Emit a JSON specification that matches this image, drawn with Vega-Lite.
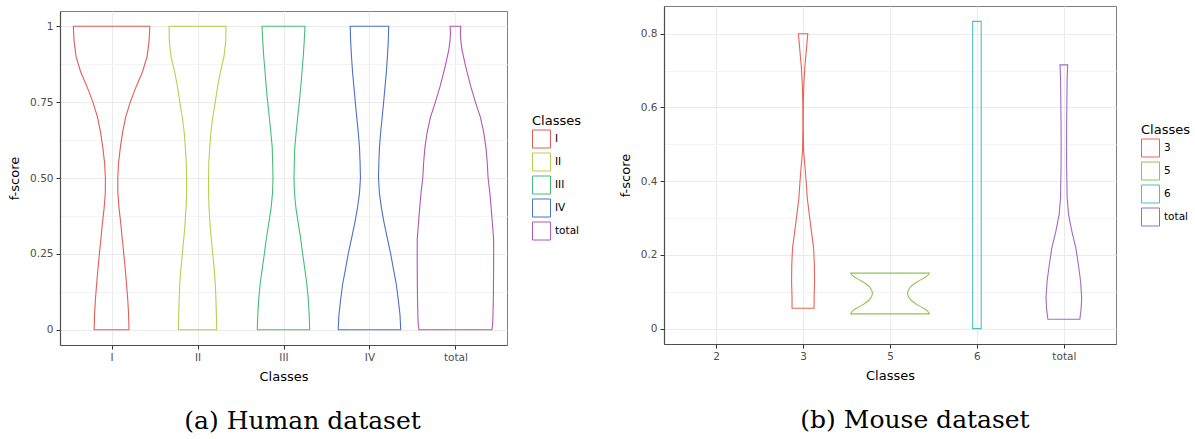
{
  "$schema": "https://vega.github.io/schema/vega-lite/v6.json",
  "padding": {"left": 8, "top": 5, "right": 5, "bottom": 5},
  "background": "white",
  "spacing": 37,
  "resolve": {"scale": {"stroke": "independent"}, "legend": {"stroke": "independent"}},
  "config": {
    "font": "DejaVu Sans",
    "view": {"stroke": "#7F7F7F", "strokeWidth": 1},
    "axis": {
      "domainColor": "#4D4D4D", "domainWidth": 1.2,
      "tickColor": "#333333", "tickSize": 4, "tickWidth": 1,
      "labelFont": "DejaVu Sans", "labelFontSize": 10.5, "labelColor": "#4D4D4D", "labelPadding": 3,
      "titleFont": "DejaVu Sans", "titleFontSize": 13, "titleFontWeight": "normal", "titleColor": "black", "titlePadding": 8,
      "gridColor": "#EBEBEB", "gridWidth": 1.1
    },
    "legend": {
      "orient": "none",
      "titleFont": "DejaVu Sans", "titleFontSize": 13, "titleFontWeight": "normal", "titleColor": "black", "titlePadding": 1.5,
      "labelFont": "DejaVu Sans", "labelFontSize": 10.5, "labelColor": "black", "labelOffset": 4,
      "symbolType": "square", "symbolSize": 324, "symbolStrokeWidth": 1, "symbolFillColor": "white", "rowPadding": 0
    },
    "title": {"font": "DejaVu Serif", "fontSize": 25, "fontWeight": "normal", "color": "black", "anchor": "middle"}
  },
  "datasets": {
    "human": [
      {"c":"I","f":1,"d":0.445},{"c":"I","f":0.95,"d":0.436},{"c":"I","f":0.9,"d":0.413},{"c":"I","f":0.85,"d":0.36},{"c":"I","f":0.8,"d":0.285},{"c":"I","f":0.75,"d":0.217},{"c":"I","f":0.7,"d":0.163},{"c":"I","f":0.65,"d":0.128},{"c":"I","f":0.6,"d":0.102},{"c":"I","f":0.55,"d":0.081},{"c":"I","f":0.5,"d":0.072},{"c":"I","f":0.45,"d":0.073},{"c":"I","f":0.4,"d":0.087},{"c":"I","f":0.35,"d":0.107},{"c":"I","f":0.3,"d":0.124},{"c":"I","f":0.25,"d":0.142},{"c":"I","f":0.2,"d":0.159},{"c":"I","f":0.15,"d":0.174},{"c":"I","f":0.1,"d":0.188},{"c":"I","f":0.05,"d":0.198},{"c":"I","f":0,"d":0.203},
      {"c":"II","f":1,"d":0.331},{"c":"II","f":0.95,"d":0.328},{"c":"II","f":0.9,"d":0.308},{"c":"II","f":0.85,"d":0.267},{"c":"II","f":0.8,"d":0.233},{"c":"II","f":0.75,"d":0.206},{"c":"II","f":0.7,"d":0.177},{"c":"II","f":0.65,"d":0.155},{"c":"II","f":0.6,"d":0.142},{"c":"II","f":0.55,"d":0.131},{"c":"II","f":0.5,"d":0.128},{"c":"II","f":0.45,"d":0.128},{"c":"II","f":0.4,"d":0.134},{"c":"II","f":0.35,"d":0.145},{"c":"II","f":0.3,"d":0.16},{"c":"II","f":0.25,"d":0.177},{"c":"II","f":0.2,"d":0.194},{"c":"II","f":0.15,"d":0.207},{"c":"II","f":0.1,"d":0.214},{"c":"II","f":0.05,"d":0.219},{"c":"II","f":0,"d":0.223},
      {"c":"III","f":1,"d":0.25},{"c":"III","f":0.95,"d":0.241},{"c":"III","f":0.9,"d":0.23},{"c":"III","f":0.85,"d":0.215},{"c":"III","f":0.8,"d":0.201},{"c":"III","f":0.75,"d":0.184},{"c":"III","f":0.7,"d":0.165},{"c":"III","f":0.65,"d":0.147},{"c":"III","f":0.6,"d":0.131},{"c":"III","f":0.55,"d":0.126},{"c":"III","f":0.5,"d":0.122},{"c":"III","f":0.45,"d":0.128},{"c":"III","f":0.4,"d":0.145},{"c":"III","f":0.35,"d":0.172},{"c":"III","f":0.3,"d":0.2},{"c":"III","f":0.25,"d":0.223},{"c":"III","f":0.2,"d":0.248},{"c":"III","f":0.15,"d":0.272},{"c":"III","f":0.1,"d":0.288},{"c":"III","f":0.05,"d":0.299},{"c":"III","f":0,"d":0.305},
      {"c":"IV","f":1,"d":0.224},{"c":"IV","f":0.95,"d":0.219},{"c":"IV","f":0.9,"d":0.209},{"c":"IV","f":0.85,"d":0.197},{"c":"IV","f":0.8,"d":0.181},{"c":"IV","f":0.75,"d":0.165},{"c":"IV","f":0.7,"d":0.148},{"c":"IV","f":0.65,"d":0.13},{"c":"IV","f":0.6,"d":0.116},{"c":"IV","f":0.55,"d":0.109},{"c":"IV","f":0.5,"d":0.105},{"c":"IV","f":0.45,"d":0.116},{"c":"IV","f":0.4,"d":0.14},{"c":"IV","f":0.35,"d":0.172},{"c":"IV","f":0.3,"d":0.209},{"c":"IV","f":0.25,"d":0.247},{"c":"IV","f":0.2,"d":0.279},{"c":"IV","f":0.15,"d":0.312},{"c":"IV","f":0.1,"d":0.335},{"c":"IV","f":0.05,"d":0.355},{"c":"IV","f":0,"d":0.364},
      {"c":"total","f":1,"d":0.062},{"c":"total","f":0.975,"d":0.057},{"c":"total","f":0.95,"d":0.064},{"c":"total","f":0.92,"d":0.078},{"c":"total","f":0.875,"d":0.113},{"c":"total","f":0.85,"d":0.134},{"c":"total","f":0.8,"d":0.18},{"c":"total","f":0.75,"d":0.233},{"c":"total","f":0.7,"d":0.291},{"c":"total","f":0.65,"d":0.329},{"c":"total","f":0.6,"d":0.355},{"c":"total","f":0.55,"d":0.37},{"c":"total","f":0.5,"d":0.38},{"c":"total","f":0.45,"d":0.401},{"c":"total","f":0.4,"d":0.416},{"c":"total","f":0.35,"d":0.43},{"c":"total","f":0.3,"d":0.444},{"c":"total","f":0.25,"d":0.445},{"c":"total","f":0.2,"d":0.444},{"c":"total","f":0.15,"d":0.443},{"c":"total","f":0.1,"d":0.441},{"c":"total","f":0.05,"d":0.437},{"c":"total","f":0.02,"d":0.433},{"c":"total","f":0,"d":0.424}
    ],
    "mouse": [
      {"c":"3","f":0.8,"d":0.054},{"c":"3","f":0.755,"d":0.037},{"c":"3","f":0.709,"d":0.02},{"c":"3","f":0.664,"d":0.009},{"c":"3","f":0.618,"d":0.0035},{"c":"3","f":0.55,"d":0.0023},{"c":"3","f":0.482,"d":0.006},{"c":"3","f":0.437,"d":0.023},{"c":"3","f":0.391,"d":0.038},{"c":"3","f":0.355,"d":0.048},{"c":"3","f":0.31,"d":0.071},{"c":"3","f":0.264,"d":0.096},{"c":"3","f":0.219,"d":0.121},{"c":"3","f":0.174,"d":0.13},{"c":"3","f":0.128,"d":0.132},{"c":"3","f":0.083,"d":0.127},{"c":"3","f":0.0553,"d":0.127},
      {"c":"5","f":0.1506,"d":0.451},{"c":"5","f":0.145,"d":0.437},{"c":"5","f":0.14,"d":0.409},{"c":"5","f":0.133,"d":0.357},{"c":"5","f":0.125,"d":0.299},{"c":"5","f":0.115,"d":0.242},{"c":"5","f":0.105,"d":0.211},{"c":"5","f":0.096,"d":0.201},{"c":"5","f":0.087,"d":0.211},{"c":"5","f":0.077,"d":0.242},{"c":"5","f":0.067,"d":0.299},{"c":"5","f":0.059,"d":0.357},{"c":"5","f":0.052,"d":0.409},{"c":"5","f":0.046,"d":0.437},{"c":"5","f":0.04,"d":0.451},
      {"c":"6","f":0.8336,"d":0.049},{"c":"6","f":0.6,"d":0.049},{"c":"6","f":0.4,"d":0.049},{"c":"6","f":0.2,"d":0.049},{"c":"6","f":0,"d":0.049},
      {"c":"total","f":0.7155,"d":0.044},{"c":"total","f":0.68,"d":0.038},{"c":"total","f":0.618,"d":0.035},{"c":"total","f":0.55,"d":0.032},{"c":"total","f":0.482,"d":0.031},{"c":"total","f":0.44,"d":0.032},{"c":"total","f":0.4,"d":0.035},{"c":"total","f":0.355,"d":0.038},{"c":"total","f":0.31,"d":0.054},{"c":"total","f":0.264,"d":0.092},{"c":"total","f":0.219,"d":0.138},{"c":"total","f":0.174,"d":0.167},{"c":"total","f":0.128,"d":0.193},{"c":"total","f":0.083,"d":0.205},{"c":"total","f":0.055,"d":0.199},{"c":"total","f":0.0253,"d":0.184}
    ]
  },
  "hconcat": [
    {
      "title": {"text": "(a) Human dataset", "orient": "bottom", "offset": 25, "dx": 8},
      "spacing": 0,
      "vconcat": [
        {
          "width": 447,
          "height": 4,
          "view": {"stroke": null},
          "data": {"values": [{}]},
          "mark": {"type": "point", "size": 0, "opacity": 0, "strokeWidth": 0},
          "encoding": {}
        },
        {
          "data": {"name": "human"},
          "width": 447,
          "height": 334,
          "transform": [
            {"calculate": "indexof(['I','II','III','IV','total'], datum.c) + 1", "as": "p"},
            {"calculate": "datum.p - datum.d", "as": "lo"},
            {"calculate": "datum.p + datum.d", "as": "hi"}
          ],
          "mark": {"type": "area", "orient": "horizontal", "fill": "transparent", "strokeWidth": 1.1},
          "encoding": {
            "y": {
              "field": "f", "type": "quantitative",
              "scale": {"domain": [-0.05, 1.05], "nice": false, "zero": false},
              "axis": {
                "title": "f-score",
                "values": [0, 0.125, 0.25, 0.375, 0.5, 0.625, 0.75, 0.875, 1],
                "labelExpr": "indexof([0.125,0.375,0.625,0.875], datum.value) >= 0 ? '' : (datum.value == 0 ? '0' : (datum.value == 1 ? '1' : format(datum.value, '.2f')))",
                "tickColor": {"condition": {"test": "indexof([0.125,0.375,0.625,0.875], datum.value) >= 0", "value": "transparent"}, "value": "#333333"},
                "gridColor": {"condition": {"test": "indexof([0.125,0.375,0.625,0.875], datum.value) >= 0", "value": "#F4F4F4"}, "value": "#EBEBEB"}
              }
            },
            "x": {
              "field": "lo", "type": "quantitative",
              "scale": {"domain": [0.4, 5.6], "nice": false, "zero": false},
              "axis": {"title": "Classes", "values": [1, 2, 3, 4, 5], "labelExpr": "['I','II','III','IV','total'][datum.value - 1]"}
            },
            "x2": {"field": "hi"},
            "stroke": {
              "field": "c", "type": "nominal",
              "scale": {"domain": ["I", "II", "III", "IV", "total"], "range": ["#E35D55", "#B8D04E", "#45BE78", "#4A72C8", "#B157B5"]},
              "legend": {"title": "Classes", "legendX": 472, "legendY": 109}
            },
            "detail": {"field": "c"}
          }
        }
      ]
    },
    {
      "title": {"text": "(b) Mouse dataset", "orient": "bottom", "offset": 25, "dx": 25},
      "data": {"name": "mouse"},
      "width": 452,
      "height": 338,
      "transform": [
        {"calculate": "indexof(['2','3','5','6','total'], datum.c) + 1", "as": "p"},
        {"calculate": "datum.p - datum.d", "as": "lo"},
        {"calculate": "datum.p + datum.d", "as": "hi"}
      ],
      "mark": {"type": "area", "orient": "horizontal", "fill": "transparent", "strokeWidth": 1.1},
      "encoding": {
        "y": {
          "field": "f", "type": "quantitative",
          "scale": {"domain": [-0.0417, 0.8753], "nice": false, "zero": false},
          "axis": {
            "title": "f-score",
            "values": [0, 0.1, 0.2, 0.3, 0.4, 0.5, 0.6, 0.7, 0.8],
            "labelExpr": "indexof([0.1,0.3,0.5,0.7], datum.value) >= 0 ? '' : (datum.value == 0 ? '0' : format(datum.value, '.1f'))",
            "tickColor": {"condition": {"test": "indexof([0.1,0.3,0.5,0.7], datum.value) >= 0", "value": "transparent"}, "value": "#333333"},
            "gridColor": {"condition": {"test": "indexof([0.1,0.3,0.5,0.7], datum.value) >= 0", "value": "#F4F4F4"}, "value": "#EBEBEB"}
          }
        },
        "x": {
          "field": "lo", "type": "quantitative",
          "scale": {"domain": [0.4, 5.6], "nice": false, "zero": false},
          "axis": {"title": "Classes", "values": [1, 2, 3, 4, 5], "labelExpr": "['2','3','5','6','total'][datum.value - 1]"}
        },
        "x2": {"field": "hi"},
        "stroke": {
          "field": "c", "type": "nominal",
          "scale": {"domain": ["3", "5", "6", "total"], "range": ["#E9635A", "#8FC555", "#4BBFCB", "#9F6BC6"]},
          "legend": {"title": "Classes", "legendX": 477, "legendY": 118}
        },
        "detail": {"field": "c"}
      }
    }
  ]
}
